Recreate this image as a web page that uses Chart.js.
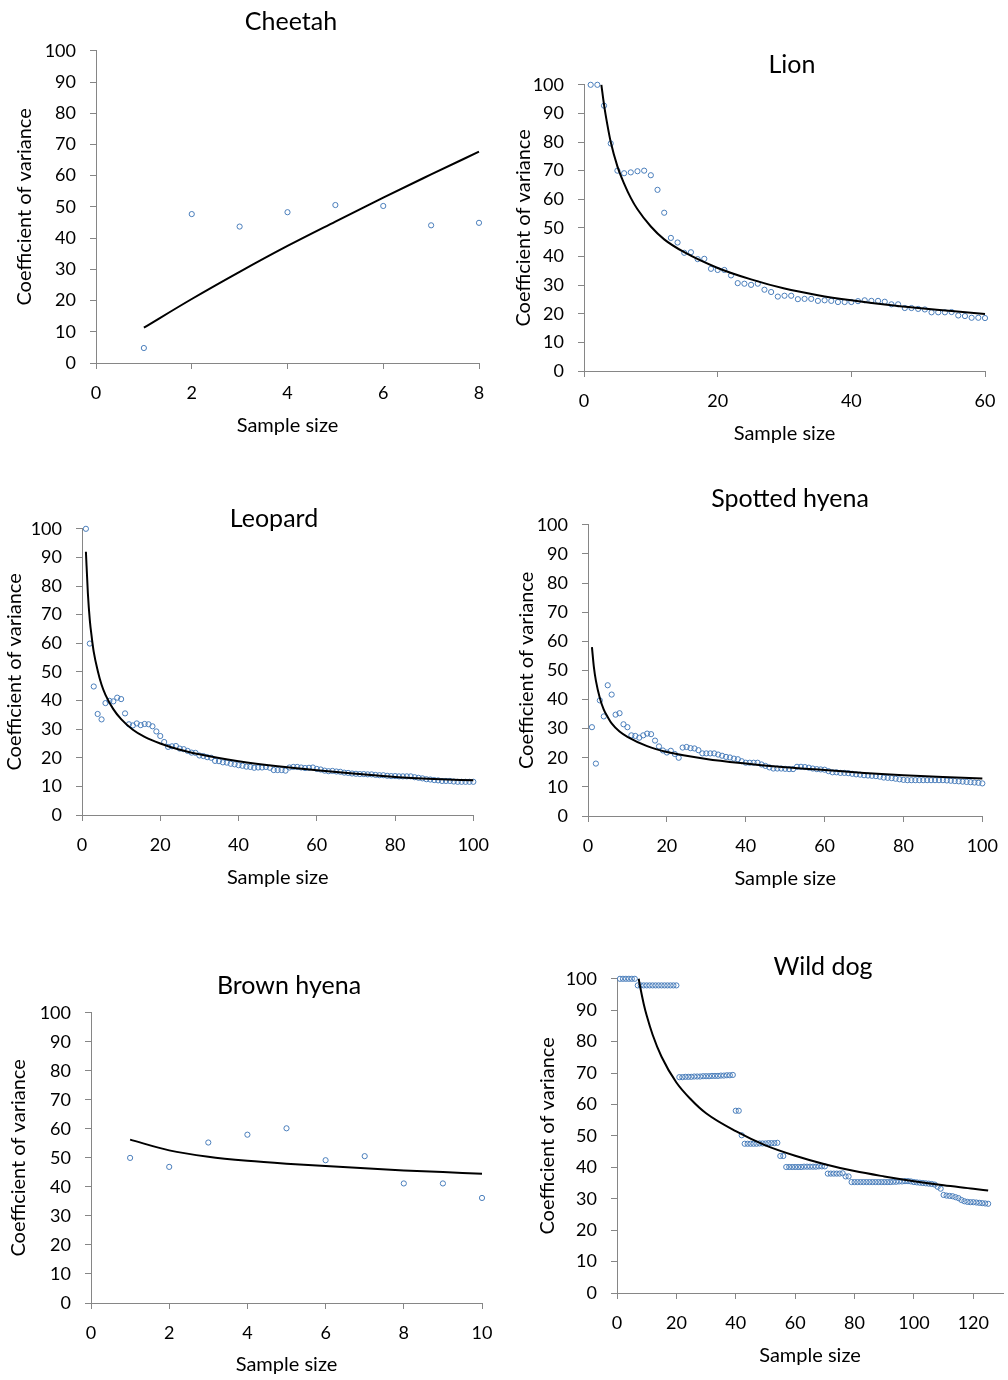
<!DOCTYPE html>
<html>
<head>
<meta charset="utf-8">
<script src="https://cdn.jsdelivr.net/npm/chart.js@4.4.1/dist/chart.umd.min.js"></script>
<style>
  html, body { margin: 0; background: #fff; }
  #page { position: relative; width: 1008px; height: 1380px; overflow: hidden; font-family: Lato, sans-serif; }
  #page canvas { position: absolute; }
  .ttl { position: absolute; font-size: 25px; line-height: 25px; color: #000; white-space: nowrap; transform: translate(-50%, -50%); }
</style>
</head>
<body>
<div id="page"></div>
<script>
// coefficient of variance per sample size (sample size = position + 1)
const cheetahCV = [4.8, 47.7, 43.7, 48.3, 50.6, 50.3, 44.1, 44.9];
const cheetahFitX = [1, 2, 3, 4, 5, 6, 7, 8];
const cheetahFitY = [11.3, 20.5, 29.2, 37.5, 45.3, 53.0, 60.4, 67.7];

const lionCV = [
  100, 100, 92.7, 79.5, 70.0, 69.1, 69.4, 69.8, 70.0, 68.4,
  63.3, 55.3, 46.5, 44.9, 41.3, 41.5, 39.1, 39.2, 35.7, 35.3,
  35.3, 33.4, 30.7, 30.5, 30.1, 30.5, 28.4, 27.6, 26.0, 26.3,
  26.3, 25.1, 25.2, 25.2, 24.5, 24.7, 24.5, 24.1, 24.1, 24.1,
  24.4, 24.7, 24.5, 24.5, 24.2, 23.3, 23.3, 22.0, 22.0, 21.7,
  21.5, 20.5, 20.5, 20.5, 20.6, 19.4, 19.2, 18.6, 18.6, 18.5
];
const lionFitX = [2.6, 3, 3.5, 4, 5, 6, 7, 8, 10, 12, 15, 20, 25, 30, 35, 40, 45, 50, 55, 60];
const lionFitY = [100, 93, 86, 80, 71.5, 65.5, 60.5, 56.5, 50.5, 46, 41.5, 36, 32, 28.8, 26.5, 24.7, 23.2, 22, 21, 19.9];

const leopardCV = [
  100, 59.9, 44.9, 35.3, 33.4, 39.1, 39.9, 39.7, 41.0, 40.5,
  35.5, 31.7, 31.3, 32.0, 31.4, 31.8, 31.7, 31.0, 29.2, 27.6,
  25.5, 23.8, 24.0, 24.1, 23.2, 23.0, 22.4, 21.8, 21.7, 20.8,
  20.6, 20.2, 20.0, 18.9, 18.8, 18.4, 18.3, 17.9, 17.7, 17.4,
  17.2, 16.9, 16.8, 16.5, 16.6, 16.6, 16.8, 16.5, 15.7, 15.7,
  15.7, 15.5, 16.6, 16.8, 16.8, 16.6, 16.4, 16.5, 16.6, 16.1,
  15.9, 15.5, 15.3, 15.4, 15.2, 15.1, 14.8, 14.7, 14.5, 14.4,
  14.3, 14.3, 14.2, 14.2, 14.0, 13.9, 13.9, 13.7, 13.6, 13.6,
  13.5, 13.5, 13.5, 13.5, 13.2, 13.0, 12.8, 12.5, 12.4, 12.2,
  12.1, 11.9, 11.9, 11.9, 11.7, 11.6, 11.6, 11.6, 11.6, 11.6
];
const leopardFitX = [1, 1.5, 2, 2.5, 3, 4, 5, 6, 8, 10, 13, 16, 20, 25, 30, 40, 50, 60, 70, 80, 90, 100];
const leopardFitY = [92, 77.5, 68, 62, 57, 50.5, 45.5, 42, 37, 33.5, 29.8, 27.3, 25, 22.8, 21.2, 18.8, 17, 15.6, 14.4, 13.3, 12.6, 12.1];

const spottedCV = [
  30.5, 18.0, 39.7, 34.2, 44.9, 41.7, 34.8, 35.3, 31.5, 30.5,
  27.7, 27.5, 26.9, 27.7, 28.3, 28.1, 25.9, 23.9, 22.5, 21.8,
  22.4, 21.3, 20.0, 23.5, 23.7, 23.3, 23.2, 22.6, 21.5, 21.5,
  21.5, 21.5, 21.1, 20.7, 20.3, 20.1, 19.7, 19.5, 18.8, 18.3,
  18.3, 18.3, 18.3, 17.7, 17.2, 16.7, 16.3, 16.3, 16.3, 16.2,
  16.1, 16.1, 16.9, 16.9, 16.8, 16.6, 16.3, 16.1, 16.0, 15.9,
  15.4, 15.0, 15.0, 14.8, 14.8, 14.7, 14.5, 14.3, 14.2, 14.0,
  13.9, 13.8, 13.7, 13.5, 13.2, 13.1, 13.0, 12.8, 12.6, 12.4,
  12.3, 12.3, 12.3, 12.3, 12.3, 12.3, 12.3, 12.3, 12.3, 12.3,
  12.2, 12.1, 12.0, 11.9, 11.8, 11.7, 11.6, 11.5, 11.4, 11.2
];
const spottedFitX = [1, 1.5, 2, 3, 4, 5, 6, 8, 10, 15, 20, 30, 40, 50, 60, 70, 80, 90, 100];
const spottedFitY = [58, 51, 46.5, 40.5, 36.5, 34, 31.8, 29, 27.2, 24, 22, 19.6, 18, 16.7, 15.8, 14.8, 14.0, 13.4, 12.9];

const brownCV = [50.0, 46.9, 55.3, 58.0, 60.2, 49.2, 50.6, 41.2, 41.2, 36.2];
const brownFitX = [1, 2, 3, 4, 5, 6, 7, 8, 9, 10];
const brownFitY = [56.3, 52.6, 50.4, 49.0, 48.0, 47.2, 46.4, 45.7, 45.1, 44.5];

const wildDogCV = [
  100, 100, 100, 100, 100, 100,
  97.9, 97.9, 97.9, 97.9, 97.9, 97.9, 97.9, 97.9, 97.9, 97.9, 97.9, 97.9, 97.9, 97.9,
  68.7, 68.7, 68.8, 68.8, 68.8, 68.9, 68.9, 68.9, 69.0, 69.0,
  69.0, 69.1, 69.1, 69.1, 69.2, 69.2, 69.3, 69.3, 69.4,
  58.0, 58.0, 50.2,
  47.5, 47.5, 47.5, 47.5, 47.5, 47.6, 47.6, 47.6, 47.7, 47.7, 47.7, 47.8,
  43.6, 43.6,
  40.1, 40.1, 40.1, 40.1, 40.1, 40.1, 40.2, 40.2, 40.2, 40.2, 40.2, 40.3, 40.3, 40.3,
  38.0, 38.0, 38.0, 38.0, 38.0, 38.1,
  37.1, 37.1,
  35.3, 35.3, 35.3, 35.3, 35.3, 35.3, 35.3, 35.3, 35.3, 35.3,
  35.3, 35.3, 35.3, 35.3, 35.4, 35.4, 35.5, 35.5, 35.6, 35.6,
  35.5, 35.3, 35.2, 35.1, 35.0, 34.9, 34.8, 34.7, 34.5,
  33.8, 33.2,
  31.2, 31.0, 30.9, 30.8, 30.5, 30.2, 29.6, 29.2, 29.0, 28.9,
  28.9, 28.8, 28.7, 28.6, 28.5, 28.4
];
const wildDogFitX = [7.3, 8, 9, 10, 12, 15, 20, 25, 30, 40, 50, 60, 70, 80, 90, 100, 110, 120, 125];
const wildDogFitY = [100, 96.5, 92, 88.3, 82.2, 75.2, 67, 61.5, 57.2, 51.5, 47, 43.7, 41, 38.8, 37.1, 35.6, 34.3, 33.2, 32.6];

const yTicks = { min: 0, max: 100, step: 10 };

const BLUE = "#4a7ebb";
const AXIS = "#868686";
const FONT = "Lato";
const TICK_SIZE = 18;
const AXIS_TITLE_SIZE = 20;

const page = document.getElementById("page");

function panel(p){
  const lh = AXIS_TITLE_SIZE * 1.2;
  const cl = Math.round(p.ytx - lh / 2);
  const ct = p.T - 24;
  const cr = p.R + 26;
  const cb = Math.round(p.xty + lh / 2);

  const cv = document.createElement("canvas");
  cv.width = cr - cl;
  cv.height = cb - ct;
  cv.style.left = cl + "px";
  cv.style.top = ct + "px";
  page.appendChild(cv);

  const t = document.createElement("div");
  t.className = "ttl";
  t.textContent = p.title;
  t.style.left = p.tx + "px";
  t.style.top = p.ty + "px";
  page.appendChild(t);

  const tickFont = { family: FONT, size: TICK_SIZE };
  const titleFont = { family: FONT, size: AXIS_TITLE_SIZE };

  new Chart(cv, {
    type: "scatter",
    data: {
      datasets: [
        {
          data: p.fitX.map((x, i) => ({ x, y: p.fitY[i] })),
          showLine: true,
          borderColor: "#000",
          borderWidth: 2,
          pointRadius: 0,
          cubicInterpolationMode: "monotone",
          clip: 4
        },
        {
          data: p.cv.map((y, i) => ({ x: i + 1, y })),
          showLine: false,
          pointStyle: "circle",
          pointRadius: 2.6,
          pointBorderWidth: 1,
          borderColor: BLUE,
          backgroundColor: "rgba(255,255,255,0)",
          clip: false
        }
      ]
    },
    options: {
      responsive: false,
      animation: false,
      events: [],
      layout: { autoPadding: false, padding: { left: 0, bottom: 0, top: p.T - ct, right: cr - p.R } },
      plugins: { legend: { display: false }, tooltip: { enabled: false } },
      scales: {
        x: {
          type: "linear",
          min: 0,
          max: p.xmax,
          afterFit: s => { s.height = cb - p.B; },
          ticks: { stepSize: p.xstep, includeBounds: false, color: "#000", font: tickFont, padding: 13, maxRotation: 0, autoSkip: false },
          grid: { drawOnChartArea: false, drawTicks: true, tickLength: 6, color: AXIS },
          border: { color: AXIS, width: 1 },
          title: { display: true, text: "Sample size", color: "#000", font: titleFont, padding: 0 }
        },
        y: {
          type: "linear",
          min: yTicks.min,
          max: yTicks.max,
          afterFit: s => { s.width = p.L - cl; },
          ticks: { stepSize: yTicks.step, color: "#000", font: tickFont, padding: 14, autoSkip: false },
          grid: { drawOnChartArea: false, drawTicks: true, tickLength: 6, color: AXIS },
          border: { color: AXIS, width: 1 },
          title: { display: true, text: "Coefficient of variance", color: "#000", font: titleFont, padding: 0 }
        }
      }
    }
  });
}

panel({ title: "Cheetah", tx: 291, ty: 20, L: 96, T: 50, R: 479, B: 363, ytx: 24.5, xty: 426,
        xmax: 8, xstep: 2, cv: cheetahCV, fitX: cheetahFitX, fitY: cheetahFitY });
panel({ title: "Lion", tx: 792, ty: 63, L: 584, T: 84, R: 985, B: 371, ytx: 524, xty: 434,
        xmax: 60, xstep: 20, cv: lionCV, fitX: lionFitX, fitY: lionFitY });
panel({ title: "Leopard", tx: 274, ty: 517, L: 82, T: 528, R: 476, B: 815, ytx: 15, xty: 878,
        xmax: 100, xstep: 20, cv: leopardCV, fitX: leopardFitX, fitY: leopardFitY });
panel({ title: "Spotted hyena", tx: 790, ty: 497, L: 588, T: 524, R: 985, B: 816, ytx: 527, xty: 879,
        xmax: 100, xstep: 20, cv: spottedCV, fitX: spottedFitX, fitY: spottedFitY });
panel({ title: "Brown hyena", tx: 289, ty: 984, L: 91, T: 1012, R: 482, B: 1303, ytx: 19, xty: 1365,
        xmax: 10, xstep: 2, cv: brownCV, fitX: brownFitX, fitY: brownFitY });
panel({ title: "Wild dog", tx: 823, ty: 965, L: 617, T: 978, R: 1003, B: 1293, ytx: 547.5, xty: 1356,
        xmax: 130, xstep: 20, cv: wildDogCV, fitX: wildDogFitX, fitY: wildDogFitY });
</script>
</body>
</html>
